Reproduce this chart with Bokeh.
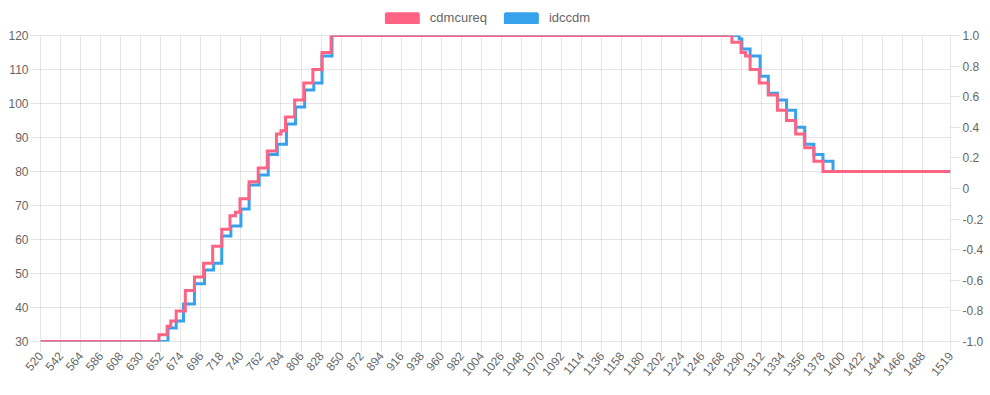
import math
from bokeh.plotting import figure
from bokeh.layouts import column
from bokeh.models import Range1d, LinearAxis, FixedTicker, Legend, LegendItem
from bokeh.embed import file_html
from bokeh.resources import INLINE

# ---- data (step change points: value holds from x[i] to x[i+1]) ----
cdmcureq_x = [520, 650, 659, 663, 669, 679, 689, 699, 709, 719, 728, 734, 739, 749, 759,
              769, 779, 784, 789, 799, 809, 819, 829, 839, 1279, 1289, 1294, 1299, 1309,
              1319, 1329, 1339, 1349, 1359, 1369, 1379, 1519]
cdmcureq_y = [30, 32, 34.5, 36, 39, 45, 49, 53, 58, 63, 67, 68, 72, 77, 81,
              86, 91, 92, 96, 101, 106, 110, 115, 120, 118, 115, 114, 110, 106,
              102.5, 98, 95, 91, 87, 83, 80, 80]

idccdm_x = [520, 660, 669, 677, 689, 700, 710, 719, 729, 740, 749, 760, 770, 780, 790,
            800, 810, 820, 829, 840, 1287, 1290, 1299, 1310, 1319, 1329, 1339, 1349,
            1359, 1369, 1379, 1390, 1519]
idccdm_y = [30, 34, 36, 41, 47, 51, 53, 61, 64, 69, 76, 79, 85, 88, 94,
            99, 104, 106, 114, 120, 119, 116, 114, 108, 103, 101, 98, 93,
            88, 85, 83, 80, 80]

series_names = ["cdmcureq", "idccdm"]
x_ticks = list(range(520, 1489, 22)) + [1519]
left_ticks = [30, 40, 50, 60, 70, 80, 90, 100, 110, 120]
right_ticks = [-1.0, -0.8, -0.6, -0.4, -0.2, 0.0, 0.2, 0.4, 0.6, 0.8, 1.0]
right_labels = ["-1.0", "-0.8", "-0.6", "-0.4", "-0.2", "0", "0.2", "0.4", "0.6", "0.8", "1.0"]

PINK = "#ff6384"
BLUE = "#36a2eb"
FONT = "Liberation Sans"
GREY = "#666666"
NAN = float("nan")

# ---------------- legend strip ----------------
leg = figure(width=972, height=26, x_range=Range1d(0, 1), y_range=Range1d(0, 1),
             x_axis_type=None, y_axis_type=None, output_backend="svg", toolbar_location=None,
             min_border=0)
leg.outline_line_color = None
leg.grid.visible = False
leg.background_fill_color = "white"
leg.border_fill_color = "white"
# swatch-only renderers (NaN geometry: nothing drawn in the strip, only the legend boxes)
pink_box = leg.quad(left=[NAN], right=[NAN], top=[NAN], bottom=[NAN],
                    fill_color=PINK, line_color=PINK, line_width=3)
blue_box = leg.quad(left=[NAN], right=[NAN], top=[NAN], bottom=[NAN],
                    fill_color=BLUE, line_color=BLUE, line_width=3)
legend = Legend(items=[LegendItem(label=series_names[0], renderers=[pink_box]),
                       LegendItem(label=series_names[1], renderers=[blue_box])],
                orientation="horizontal", location="top_center",
                glyph_width=40, glyph_height=12, label_standoff=8, spacing=14,
                padding=0, margin=10, border_line_color=None, background_fill_alpha=0,
                label_text_font=FONT, label_text_font_size="13px", label_text_color=GREY,
                label_height=12)
leg.add_layout(legend, "center")

# ---------------- main chart ----------------
p = figure(width=990, height=369,
           x_range=Range1d(520, 1519), y_range=Range1d(30, 120),
           output_backend="svg", toolbar_location=None,
           min_border_left=40, min_border_right=40, min_border_top=9, min_border_bottom=54)
p.background_fill_color = "white"
p.border_fill_color = "white"
p.outline_line_color = "black"
p.outline_line_alpha = 0.1

p.extra_y_ranges = {"right": Range1d(-1, 1)}

p.step(idccdm_x, idccdm_y, mode="after", line_color=BLUE, line_width=3, line_join="miter")
p.step(cdmcureq_x, cdmcureq_y, mode="after", line_color=PINK, line_width=3, line_join="miter")


def style_axis(ax):
    ax.axis_line_color = None
    ax.major_tick_in = 0
    ax.major_tick_out = 10
    ax.major_tick_line_color = "black"
    ax.major_tick_line_alpha = 0.1
    ax.minor_tick_line_color = None
    ax.major_label_text_font = FONT
    ax.major_label_text_font_size = "12px"
    ax.major_label_text_color = GREY
    ax.major_label_standoff = 2


xa = p.xaxis[0]
xa.ticker = FixedTicker(ticks=x_ticks)
xa.major_label_orientation = math.radians(50)
style_axis(xa)

ya = p.yaxis[0]
ya.ticker = FixedTicker(ticks=left_ticks)
style_axis(ya)

ra = LinearAxis(y_range_name="right", ticker=FixedTicker(ticks=right_ticks),
                major_label_overrides={t: s for t, s in zip(right_ticks, right_labels)})
style_axis(ra)
p.add_layout(ra, "right")

p.xgrid.ticker = FixedTicker(ticks=x_ticks)
p.ygrid.ticker = FixedTicker(ticks=left_ticks)
for g in (p.xgrid, p.ygrid):
    g.grid_line_color = "black"
    g.grid_line_alpha = 0.1

layout = column(leg, p, spacing=0)
open("out.html", "w").write(file_html(layout, INLINE))
